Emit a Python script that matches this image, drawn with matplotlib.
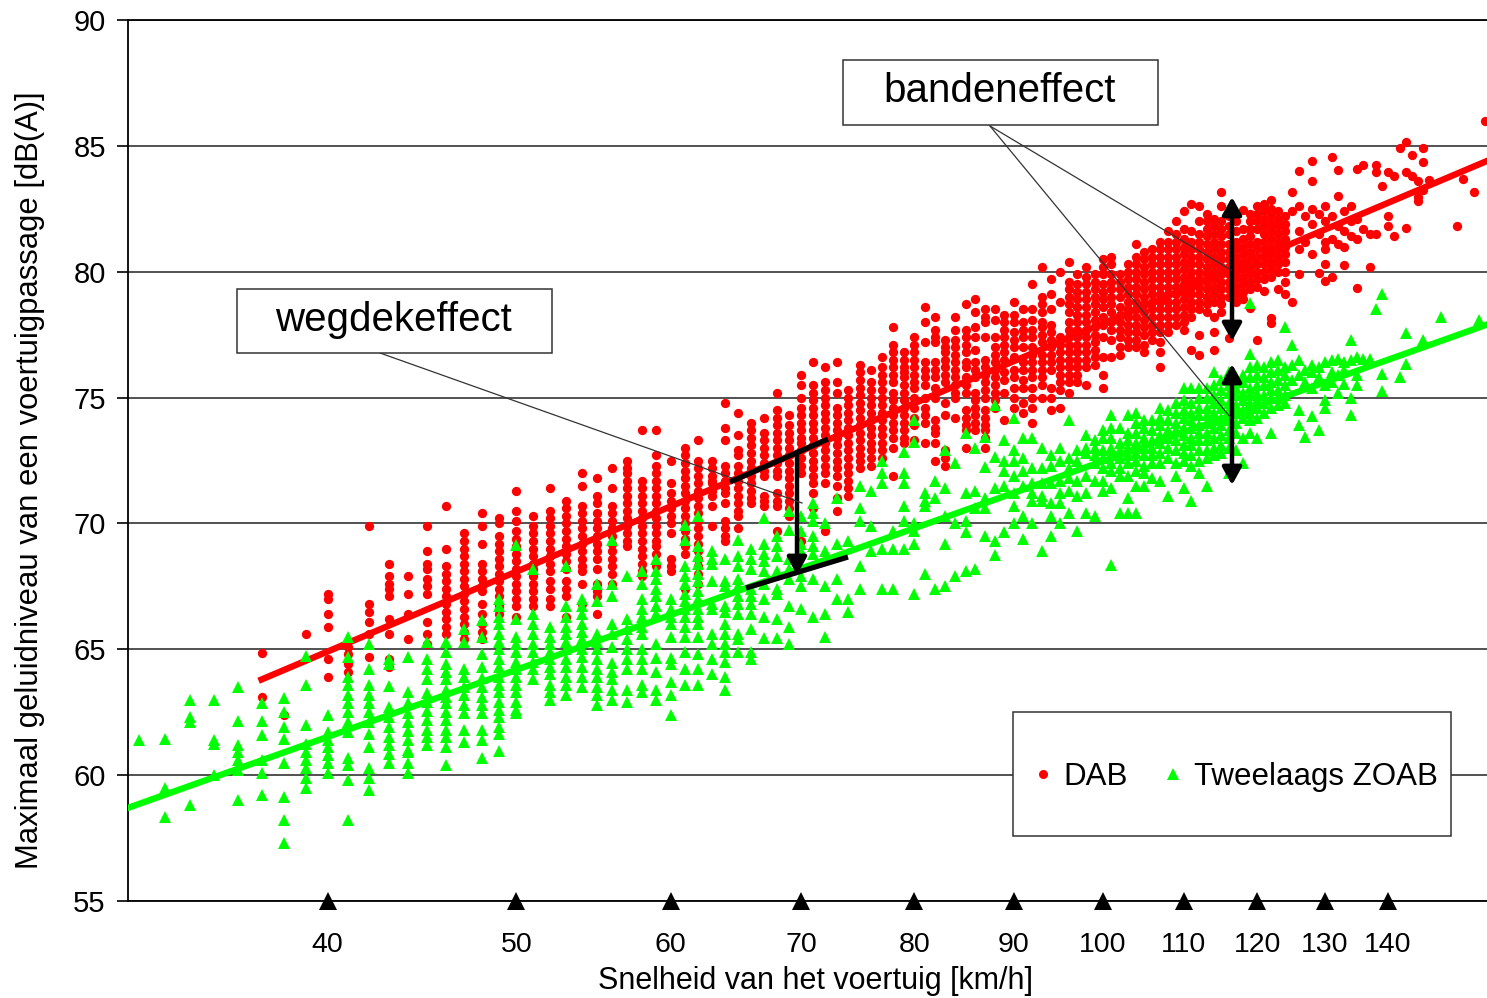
import matplotlib
matplotlib.use("Agg")
import matplotlib.pyplot as plt
from matplotlib.lines import Line2D
from matplotlib.patches import Rectangle
from matplotlib.ticker import NullFormatter, NullLocator

plt.rcParams['font.family'] = ['Liberation Sans', 'DejaVu Sans']

W, H = 1487, 998

speed_ticks = [40, 50, 60, 70, 80, 90, 100, 110, 120, 130, 140]
level_ticks = [55, 60, 65, 70, 75, 80, 85, 90]

# regression lines
red_fit_speed = [37, 157.4]
red_fit_level = [63.8, 84.4]
green_fit_speed = [31.6, 157.4]
green_fit_level = [58.7, 77.9]

# measurements per whole km/h
red_speed = list(range(37, 125))
red_level = [
    [64.85, 63.1],  # 37
    [62.4],
    [65.6],
    [67.2, 67.0, 66.4, 65.9, 64.6, 63.9],  # 40
    [65.1, 64.8, 64.4, 64.1],
    [69.9, 66.8, 66.5, 66.1, 65.6, 64.7],
    [68.4, 67.9, 67.6, 67.4, 67.1, 66.2, 65.6, 64.6, 64.3],
    [67.9, 67.2, 66.4, 65.4],
    [69.9, 68.9, 68.4, 68.2, 67.8, 67.5, 67.2, 66.1, 65.6, 65.2],  # 45
    [70.7, 69.0, 68.3, 68.0, 67.7, 67.4, 67.1, 66.8, 66.5, 66.2, 65.9, 65.6],
    [69.6, 69.3, 69.0, 68.7, 68.4, 68.1, 67.8, 67.5, 67.2, 66.9, 66.6, 66.3, 66.0, 65.7, 65.4],
    [70.4, 69.9, 69.2, 68.4, 68.1, 67.8, 67.5, 67.3, 66.8, 66.4, 66.0, 65.7, 65.4],
    [70.2, 70.0, 69.5, 69.2, 68.9, 68.6, 68.3, 68.0, 67.7, 67.4, 67.1, 66.7, 66.4],
    [71.3, 70.5, 70.1, 69.7, 69.4, 69.1, 68.8, 68.5, 68.2, 67.9, 67.6, 67.3, 67.0, 66.7, 66.3],  # 50
    [70.3, 69.9, 69.6, 69.3, 69.0, 68.7, 68.4, 68.2, 67.9, 67.6, 67.3, 67.0, 66.7],
    [71.4, 70.5, 70.2, 69.9, 69.6, 69.3, 69.0, 68.7, 68.4, 68.1, 67.7, 67.4, 67.0, 66.7],
    [70.9, 70.6, 70.3, 70.0, 69.7, 69.4, 69.1, 68.8, 68.5, 68.2, 67.7, 67.4, 67.1, 66.3],
    [72.0, 71.5, 70.7, 70.4, 70.1, 69.8, 69.5, 69.2, 68.9, 68.6, 68.3, 68.1, 67.6, 66.8],
    [71.8, 71.1, 70.8, 70.4, 70.1, 69.8, 69.5, 69.2, 68.9, 68.6, 68.2, 67.6, 67.3, 67.1, 66.4],  # 55
    [72.2, 71.4, 70.7, 70.4, 70.1, 69.8, 69.5, 69.2, 68.9, 68.6, 68.3, 68.0, 67.6],
    [72.5, 72.2, 72.0, 71.7, 71.4, 71.1, 70.8, 70.5, 70.2, 69.9, 69.6, 69.3, 69.1],
    [73.7, 71.7, 71.4, 71.1, 70.8, 70.5, 70.2, 69.9, 69.6, 69.3, 69.0, 68.7, 68.4, 68.1, 67.9],
    [73.7, 72.7, 72.3, 72.0, 71.7, 71.4, 71.1, 70.8, 70.5, 70.2, 69.9, 69.6, 69.3, 69.1, 68.8, 68.3],
    [72.5, 71.6, 71.2, 70.9, 70.6, 70.3, 70.0, 69.6, 68.6, 68.3, 68.1],  # 60
    [73.0, 72.7, 72.4, 72.1, 71.8, 71.5, 71.2, 70.9, 70.6, 70.3, 70.0, 69.7, 69.4, 69.1, 68.8, 67.4],
    [73.3, 72.5, 72.2, 71.9, 71.6, 71.3, 71.0, 70.7, 70.4, 70.1, 69.8, 69.5, 69.2, 68.9, 68.6, 68.3, 68.0, 67.6],
    [72.5, 72.2, 71.9, 71.7, 71.6, 71.3, 71.1, 70.7, 69.9],
    [74.8, 73.8, 73.3, 72.3, 72.0, 71.7, 71.4, 71.2, 70.8, 70.1, 69.8, 69.5, 69.3],
    [74.4, 73.5, 72.9, 72.7, 72.3, 72.0, 71.7, 71.4, 71.1, 70.8, 70.5, 70.3, 69.8],  # 65
    [74.0, 73.7, 73.4, 73.1, 72.8, 72.5, 72.2, 71.9, 71.6, 71.3, 71.0, 70.8],
    [74.2, 73.6, 73.3, 73.0, 72.7, 72.4, 72.1, 71.9, 71.1, 70.9, 70.7],
    [75.2, 74.5, 74.2, 73.9, 73.6, 73.3, 73.0, 72.7, 72.4, 72.1, 71.9, 71.2, 70.9, 70.7, 69.7],
    [74.3, 73.9, 73.6, 73.3, 73.0, 72.7, 72.4, 72.1, 71.8, 71.5, 71.2, 70.9, 70.6, 70.3],
    [75.9, 75.5, 75.0, 74.6, 74.3, 74.0, 73.7, 73.4, 73.2, 72.9, 72.6, 72.3, 72.0, 69.3],  # 70
    [76.4, 75.5, 75.2, 74.9, 74.6, 74.3, 74.0, 73.7, 73.4, 73.1, 72.8, 72.5, 72.2, 71.9, 71.6, 71.2, 70.6],
    [76.2, 75.6, 75.3, 75.0, 74.7, 74.4, 74.1, 73.8, 73.5, 73.2, 72.9, 72.6, 72.3, 72.0, 71.6, 69.7],
    [76.4, 75.6, 75.2, 74.6, 74.3, 74.0, 73.7, 73.4, 73.1, 72.8, 72.5, 72.2, 71.9, 71.5, 71.0, 70.5],
    [75.3, 75.0, 74.7, 74.4, 74.1, 73.8, 73.5, 73.2, 72.9, 72.6, 72.3, 72.0, 71.7, 71.4, 71.1],
    [76.3, 76.0, 75.7, 75.4, 75.1, 74.8, 74.5, 74.2, 73.9, 73.6, 73.3, 73.0, 72.7, 72.5, 72.2],  # 75
    [76.1, 75.6, 75.3, 75.0, 74.7, 74.4, 74.1, 73.8, 73.5, 73.2, 72.9, 72.6, 72.3],
    [76.6, 76.2, 75.9, 75.6, 75.3, 75.0, 74.7, 74.4, 74.1, 73.8, 73.5, 73.2, 72.9, 72.6],
    [77.8, 77.1, 76.8, 76.5, 76.2, 75.9, 75.6, 75.2, 74.9, 74.6, 74.3, 74.0, 73.7, 73.4, 73.0, 71.9],
    [76.8, 76.5, 76.2, 76.0, 75.8, 75.5, 75.2, 74.9, 74.6, 74.3, 74.0, 73.7, 73.4, 73.2],
    [77.4, 77.1, 76.8, 76.5, 76.2, 75.9, 75.6, 75.4, 75.0, 74.6, 74.2, 73.9, 73.3],  # 80
    [78.6, 78.0, 77.2, 76.4, 76.1, 75.8, 75.5, 75.0, 74.6, 74.3, 74.0, 73.2],
    [78.2, 77.7, 77.4, 77.2, 76.4, 76.1, 75.8, 75.4, 75.0, 74.1, 73.8, 73.6, 73.2, 72.5],
    [77.3, 77.0, 76.8, 76.5, 76.2, 75.9, 75.6, 74.8, 74.3, 72.9, 72.6, 72.3],
    [78.2, 77.7, 77.3, 77.0, 76.7, 76.4, 76.1, 75.8, 75.5, 75.2, 75.0, 74.2],
    [78.7, 77.7, 77.4, 77.1, 76.8, 76.4, 76.2, 75.8, 75.5, 75.2, 74.5, 74.2, 73.9, 73.7, 73.0],  # 85
    [78.9, 78.4, 77.8, 77.4, 76.9, 76.4, 76.1, 75.8, 75.2, 74.9, 74.6, 74.3, 74.0, 73.7],
    [78.5, 78.2, 78.0, 77.4, 76.5, 76.2, 75.9, 75.6, 75.3, 75.0, 74.5, 74.2, 73.9, 73.7, 73.4, 73.0],
    [78.5, 78.1, 77.4, 77.0, 76.7, 76.4, 76.1, 75.8, 75.5, 75.2, 74.9, 74.6],
    [78.3, 78.0, 77.7, 77.4, 77.1, 76.8, 76.5, 76.0, 75.7, 75.2, 74.1],
    [78.8, 78.3, 78.0, 77.6, 77.3, 77.0, 76.6, 76.1, 75.8, 75.4, 75.0, 74.6],  # 90
    [78.5, 78.0, 77.7, 77.4, 77.0, 76.4, 76.1, 75.7, 75.4, 74.8, 74.4],
    [79.5, 78.5, 78.1, 77.7, 77.4, 77.0, 76.7, 76.4, 76.1, 75.8, 75.4, 75.0, 74.6, 74.0],
    [80.2, 79.0, 78.7, 78.4, 78.0, 77.8, 77.5, 77.2, 76.7, 76.4, 76.1, 75.8, 75.5, 75.0],
    [79.7, 79.1, 78.5, 77.9, 77.6, 77.3, 77.0, 76.7, 76.4, 76.1, 75.4, 75.0, 74.5],
    [80.0, 78.8, 77.4, 77.1, 76.8, 76.5, 76.2, 75.9, 75.6, 75.3, 74.6],  # 95
    [80.4, 79.6, 79.3, 79.0, 78.7, 78.4, 78.0, 77.7, 77.4, 77.1, 76.8, 76.5, 76.2, 75.9, 75.6, 75.2],
    [79.9, 79.5, 79.2, 78.9, 78.6, 78.3, 78.0, 77.7, 77.4, 77.1, 76.8, 76.5, 76.2, 75.9, 75.6],
    [80.2, 79.8, 79.5, 79.2, 78.9, 78.6, 78.3, 78.0, 77.7, 77.4, 77.1, 76.8, 76.5, 76.2, 75.5],
    [79.9, 79.6, 79.3, 79.0, 78.7, 78.4, 78.1, 77.8, 77.5, 77.2, 76.9, 76.6, 76.3],
    [80.5, 80.2, 79.9, 79.5, 79.2, 78.9, 78.6, 78.2, 77.9, 77.4, 76.6, 75.9, 75.4],  # 100
    [80.6, 80.3, 79.9, 79.6, 79.3, 79.0, 78.7, 78.4, 78.0, 77.7, 77.3, 76.6],
    [79.9, 79.6, 79.3, 79.0, 78.6, 78.3, 78.0, 77.7, 77.4, 77.0, 76.7],
    [80.3, 80.0, 79.7, 79.4, 79.1, 78.8, 78.5, 78.2, 77.9, 77.6, 77.3, 77.0],
    [81.1, 80.6, 80.3, 80.0, 79.7, 79.4, 79.1, 78.8, 78.5, 78.2, 77.9, 77.6, 77.3, 77.0],
    [80.8, 80.5, 80.2, 79.9, 79.6, 79.3, 79.0, 78.7, 78.4, 78.1, 77.8, 77.5, 77.1, 76.8],  # 105
    [80.9, 80.6, 80.3, 80.0, 79.7, 79.4, 79.1, 78.8, 78.5, 78.2, 77.9, 77.6, 77.3],
    [81.2, 80.9, 80.6, 80.3, 80.0, 79.7, 79.4, 79.1, 78.8, 78.5, 78.2, 77.9, 77.6, 77.2, 76.8, 76.2],
    [81.6, 81.2, 80.9, 80.6, 80.3, 80.0, 79.7, 79.4, 79.1, 78.8, 78.5, 78.2, 77.9, 77.6],
    [82.0, 81.5, 81.2, 80.9, 80.6, 80.3, 80.0, 79.7, 79.4, 79.1, 78.8, 78.5, 78.2, 77.9],
    [82.4, 81.7, 81.3, 81.0, 80.7, 80.4, 80.1, 79.8, 79.5, 79.2, 78.9, 78.6, 78.3, 78.0],  # 110
    [81.6, 81.2, 80.9, 80.6, 80.3, 80.0, 79.7, 79.4, 79.1, 78.8, 78.5, 78.2],
    [81.5, 81.2, 80.9, 80.6, 80.3, 80.0, 79.7, 79.4, 79.1, 78.8, 78.5],
    [82.0, 81.7, 81.4, 81.1, 80.8, 80.5, 80.2, 79.9, 79.6, 79.3, 79.0, 78.7, 78.4],
    [82.1, 81.8, 81.5, 81.2, 80.9, 80.6, 80.3, 80.0, 79.7, 79.4, 79.1, 78.8, 78.2],
    [82.0, 81.7, 81.4, 81.1, 80.8, 80.5, 80.2, 79.9, 79.6, 79.3, 79.0, 78.7, 78.4],  # 115
    [82.2, 81.8, 81.5, 81.1, 80.8, 80.5, 80.2, 79.9, 79.6, 79.3, 79.0],
    [82.0, 81.6, 81.2, 80.9, 80.6, 80.3, 80.0, 79.7, 79.4, 79.1, 78.8],
    [81.7, 81.3, 81.0, 80.7, 80.4, 80.1, 79.8, 79.5, 79.2, 78.9],
    [82.3, 82.0, 81.7, 81.4, 81.1, 80.8, 80.5, 80.2, 79.9, 79.6, 79.3],
    [82.6, 82.3, 82.0, 81.7, 81.2, 80.9, 80.6, 80.3, 80.0, 79.7, 79.4],  # 120
    [82.7, 82.4, 82.1, 81.8, 81.5, 81.2, 80.9, 80.6, 80.3, 80.0, 79.7],
    [82.5, 82.2, 81.9, 81.6, 81.3, 81.0, 80.7, 80.4, 80.1, 79.8],
    [82.4, 82.1, 81.8, 81.5, 81.2, 80.9, 80.6, 80.3, 80.0],
    [82.2, 81.9, 81.6, 81.3, 81.0, 80.7, 80.4, 80.0, 79.6],
]

# scattered fast vehicles
red_extra_speed = [115, 111, 112, 113, 112, 118, 115, 122, 125, 128, 128, 131, 132, 126, 132, 135, 136,
                   138, 138, 139, 140, 141, 143, 142, 143, 146, 144, 146, 144, 145, 147, 146, 145, 145,
                   153, 155, 140, 140, 138, 141, 143, 152, 134, 130, 135, 137, 133, 130, 129, 130, 131,
                   126, 125, 124, 123, 121, 120, 122, 122, 119, 116, 114, 114, 112, 111, 112, 110, 157,
                   125, 126, 126, 127, 127, 128, 128, 129, 129, 130, 130, 131, 131, 132, 132, 133, 133,
                   134, 134, 135, 136, 126, 128, 130, 133, 135, 137]
red_extra_level = [83.15, 82.7, 82.6, 82.3, 82.0, 82.45, 82.6, 82.85, 83.15, 84.4, 83.6, 84.55, 84.05, 84.0,
                   83.0, 84.1, 84.25, 84.25, 83.95, 83.4, 83.95, 83.8, 83.95, 84.9, 85.15, 84.9, 84.65,
                   84.35, 83.8, 83.6, 83.65, 83.25, 82.8, 82.95, 83.7, 83.15, 82.2, 81.8, 81.5, 81.4, 81.75,
                   81.8, 82.6, 82.6, 79.35, 80.2, 80.25, 80.3, 79.95, 79.65, 79.8, 79.9, 78.8, 79.1, 79.3,
                   79.25, 77.3, 77.95, 78.15, 78.55, 77.35, 76.9, 77.6, 76.7, 76.9, 77.5, 77.7, 86.0,
                   82.4, 82.6, 81.6, 82.2, 81.2, 82.5, 81.9, 82.3, 81.5, 82.0, 81.2, 82.2, 81.3, 81.8, 81.1,
                   82.4, 81.6, 82.0, 81.4, 82.1, 81.7, 80.9, 80.7, 80.9, 81.0, 81.3, 81.5]

green_speed = list(range(32, 125))
green_level = [
    [61.4],  # 32
    [61.45, 59.5, 58.35],
    [63.0, 62.3, 62.1, 58.8],
    [63.0, 61.4, 61.25, 60.0],  # 35
    [63.5, 62.15, 61.2, 60.9, 60.6, 60.2, 59.0],
    [62.85, 62.15, 61.6, 60.6, 60.1, 59.2],
    [63.05, 62.5, 61.9, 61.45, 60.5, 59.15, 58.2, 57.3],
    [64.75, 63.6, 62.0, 61.25, 60.9, 60.6, 60.3, 59.9, 59.5],
    [62.4, 61.7, 61.4, 61.1, 60.8, 60.5, 60.1],  # 40
    [65.5, 64.7, 63.9, 63.6, 63.2, 62.85, 62.5, 62.1, 61.7, 60.7, 60.4, 59.8, 58.2],
    [65.2, 64.2, 63.6, 63.2, 62.85, 62.5, 62.1, 61.65, 61.1, 60.3, 59.9, 59.4],
    [64.6, 64.4, 63.55, 62.7, 62.3, 61.9, 61.5, 61.2, 60.85, 60.5],
    [64.7, 63.3, 62.85, 62.45, 62.1, 61.75, 61.4, 61.0, 60.9, 60.5, 60.1],
    [65.3, 64.6, 64.2, 63.8, 63.25, 62.9, 62.55, 62.2, 61.8, 61.5, 61.2],  # 45
    [65.3, 64.9, 64.4, 64.1, 63.8, 63.4, 63.1, 62.85, 62.5, 62.2, 61.8, 61.5, 61.1, 60.4],
    [65.8, 65.3, 64.2, 63.9, 63.5, 63.2, 62.8, 62.45, 61.8, 61.3],
    [66.15, 65.5, 64.8, 64.3, 63.85, 63.5, 63.1, 62.8, 62.45, 61.8, 61.4, 60.7],
    [67.0, 66.7, 66.3, 66.0, 65.6, 65.3, 65.0, 64.6, 64.3, 63.9, 63.6, 63.3, 62.9, 62.6, 62.3, 61.9, 61.65, 60.95],
    [69.15, 66.2, 65.5, 65.2, 64.9, 64.5, 64.2, 63.9, 63.6, 63.3, 62.9, 62.6, 62.45],  # 50
    [68.2, 66.4, 66.0, 65.6, 65.2, 64.9, 64.5, 64.2, 63.8],
    [65.9, 65.5, 65.2, 64.9, 64.6, 64.3, 64.0, 63.6, 63.3, 63.0],
    [68.3, 66.7, 66.3, 65.9, 65.6, 65.3, 65.0, 64.6, 64.3, 63.9, 63.6, 63.2],
    [67.0, 66.7, 66.4, 66.0, 65.7, 65.4, 65.0, 64.7, 64.3, 63.9, 63.5],
    [67.6, 66.9, 65.6, 65.3, 65.0, 64.6, 64.2, 63.9, 63.5, 63.2, 62.8],  # 55
    [69.35, 67.6, 67.1, 66.0, 65.6, 65.1, 64.45, 64.1, 63.8, 63.4, 63.0],
    [67.9, 66.2, 65.8, 65.4, 65.0, 64.6, 64.2, 63.4, 62.9],
    [68.1, 67.6, 67.0, 66.6, 66.3, 65.9, 65.6, 65.0, 64.6, 64.2, 63.6, 63.3],
    [68.6, 68.1, 67.8, 67.4, 67.1, 66.7, 66.4, 65.2, 64.65, 64.1, 63.4, 63.0],
    [67.0, 66.6, 66.3, 66.0, 65.5, 64.65, 64.4, 63.7, 63.2, 62.4],  # 60
    [69.95, 69.35, 68.3, 67.9, 67.6, 67.2, 66.9, 66.6, 66.3, 65.9, 65.5, 64.9, 64.2, 63.6],
    [70.3, 69.1, 68.7, 68.4, 68.0, 67.7, 67.3, 67.0, 66.6, 66.3, 66.0, 65.5, 64.8, 64.2, 63.6],
    [68.9, 68.6, 68.4, 67.7, 66.8, 66.6, 65.6, 65.2, 64.6, 64.0],
    [68.6, 67.7, 67.5, 66.7, 66.5, 66.0, 65.6, 65.2, 64.9, 64.5, 63.9, 63.4],
    [69.35, 68.7, 68.3, 67.8, 67.5, 67.1, 66.8, 66.4, 65.6, 65.4, 64.9],  # 65
    [69.0, 68.6, 68.2, 67.4, 67.1, 66.8, 66.4, 65.8, 64.9, 64.6],
    [70.2, 69.2, 68.8, 68.5, 68.1, 67.6, 67.0, 66.3, 65.45],
    [69.5, 69.1, 68.7, 68.1, 67.4, 67.2, 66.2, 65.45],
    [70.5, 69.75, 68.6, 68.2, 67.8, 66.7, 65.9, 65.2],
    [70.3, 69.7, 69.2, 68.9, 67.9, 67.5, 66.6],  # 70
    [70.8, 70.4, 70.1, 69.5, 69.1, 68.8, 67.8, 66.3],
    [70.0, 68.9, 67.5, 66.4, 65.5],
    [71.0, 69.2, 67.8, 67.0],
    [69.3, 67.0, 66.5],
    [71.5, 70.6, 70.1, 68.3, 67.4],  # 75
    [71.3, 69.9, 68.9],
    [72.5, 72.0, 71.6, 69.0, 67.4],
    [69.7, 69.0, 67.4],
    [72.85, 72.0, 71.6, 70.7, 70.1, 69.0],
    [74.1, 73.25, 70.0, 69.7, 69.2, 67.2],  # 80
    [71.2, 70.9, 70.7, 68.0],
    [71.7, 71.0, 67.4],
    [72.9, 71.4, 70.3, 69.2, 67.5],
    [72.4, 70.0, 67.9],
    [73.6, 71.2, 70.1, 69.65, 68.1],  # 85
    [73.0, 71.3, 70.6, 68.2],
    [73.45, 72.25, 71.0, 70.6, 69.5],
    [74.7, 72.65, 71.4, 69.3, 68.75],
    [73.3, 72.5, 72.1, 71.5, 69.65],
    [74.2, 72.9, 72.5, 71.9, 71.2, 70.7, 70.0],  # 90
    [73.4, 72.6, 72.1, 71.5, 70.3, 69.4],
    [73.4, 72.2, 71.6, 71.2, 70.9, 70.0],
    [73.0, 72.2, 71.6, 71.1, 70.9, 68.9],
    [72.7, 72.3, 71.6, 70.8, 70.3, 69.5],
    [73.0, 72.5, 71.7, 71.2, 70.8, 70.0],  # 95
    [74.1, 72.6, 72.2, 71.8, 71.3, 70.4],
    [72.9, 72.5, 71.7, 71.1, 69.7],
    [73.5, 73.0, 72.8, 71.9, 71.2, 70.4],
    [73.3, 73.0, 72.7, 72.4, 71.7, 70.3],
    [73.7, 73.4, 72.9, 72.6, 72.2, 71.7, 71.3],  # 100
    [74.3, 73.8, 73.4, 73.0, 72.7, 72.4, 72.1, 71.4, 68.35],
    [73.8, 73.2, 72.9, 72.6, 72.2, 71.9, 70.4],
    [74.3, 73.6, 73.3, 73.0, 72.7, 72.4, 71.9, 71.0, 70.4],
    [74.4, 74.0, 73.6, 73.2, 72.8, 72.5, 72.1, 71.5, 70.4],
    [74.1, 73.8, 73.4, 73.0, 72.7, 72.3, 72.0, 71.5],  # 105
    [74.1, 73.7, 73.3, 73.0, 72.7, 72.4, 71.8],
    [74.6, 74.2, 73.9, 73.5, 73.2, 72.8, 72.4, 71.7],
    [74.5, 74.1, 73.7, 73.4, 73.0, 72.6, 71.1],
    [74.8, 74.4, 74.0, 73.7, 73.3, 72.9, 72.4, 71.9],
    [75.4, 74.9, 74.5, 74.2, 73.8, 73.5, 73.1, 72.8, 72.5, 71.4],  # 110
    [75.4, 74.8, 74.4, 74.1, 73.8, 73.4, 73.1, 72.7, 72.3, 70.9],
    [75.4, 75.0, 74.6, 74.3, 73.9, 73.6, 73.3, 72.9, 72.5, 72.0],
    [75.4, 75.0, 74.6, 74.3, 74.0, 73.6, 73.3, 72.9, 72.6, 71.5],
    [76.0, 75.5, 75.1, 74.8, 74.4, 74.1, 73.8, 73.4, 73.0, 72.7],
    [75.7, 75.3, 74.9, 74.6, 74.2, 73.9, 73.5, 73.1, 72.8],  # 115
    [76.0, 75.5, 75.2, 74.8, 74.5, 74.1, 73.7, 73.4, 73.0, 72.0],
    [75.8, 75.4, 75.1, 74.7, 74.4, 74.0, 73.6, 72.9],
    [75.9, 75.6, 75.2, 74.9, 74.5, 74.2, 73.4, 72.4],
    [76.2, 75.8, 75.4, 75.1, 74.8, 74.4, 74.1, 73.6],
    [76.3, 75.9, 75.5, 75.2, 74.9, 74.6, 74.2, 73.4],  # 120
    [76.2, 75.8, 75.5, 75.1, 74.8, 74.4],
    [76.4, 76.0, 75.6, 75.3, 75.0, 74.6, 73.6],
    [76.5, 76.1, 75.7, 75.3, 75.0, 74.7],
    [77.8, 76.2, 75.9, 75.5, 75.1, 74.8],
]

green_extra_speed = [139, 138, 149, 156, 143, 134, 146, 125, 119, 119, 126, 143, 139, 142, 139, 135, 134, 132,
                     130, 130, 134, 126, 126, 128, 129, 127, 137, 136, 132, 131, 130, 129, 128, 133, 133,
                     125, 125, 126, 127, 127, 128, 128, 129, 130, 131, 131, 132, 133, 134, 135, 135]
green_extra_level = [79.1, 78.5, 78.2, 78.1, 77.55, 77.3, 77.3, 77.1, 78.75, 76.75, 76.5, 76.35, 75.95, 75.8,
                     75.25, 75.5, 75.0, 75.2, 74.9, 74.6, 74.3, 74.5, 73.9, 74.25, 73.7, 73.45, 76.55, 76.55,
                     76.55, 76.5, 76.4, 76.2, 76.3, 76.1, 75.55, 76.3, 75.7, 75.9, 76.1, 75.6, 76.0, 75.4,
                     75.8, 75.5, 76.0, 75.6, 75.9, 76.4, 76.5, 76.6, 75.9]

assert len(red_speed) == len(red_level) and len(green_speed) == len(green_level)


def px(x, y):
    # reference pixels to figure fraction
    return x / W, 1 - y / H


def flat(speeds, levels):
    xs, ys = [], []
    for s, lv in zip(speeds, levels):
        xs += [s] * len(lv)
        ys += lv
    return xs, ys


fig = plt.figure(figsize=(W / 100, H / 100), dpi=100)
ax = fig.add_axes([128 / W, 1 - 901 / H, (W - 128) / W, 881 / H])

ax.set_xscale("log")
ax.set_xlim(31.6, 157.4)
ax.set_ylim(55, 90)

ax.set_yticks(level_ticks)
ax.set_xticks(speed_ticks)
ax.set_xticklabels([str(s) for s in speed_ticks])
ax.xaxis.set_minor_locator(NullLocator())
ax.xaxis.set_minor_formatter(NullFormatter())
ax.tick_params(axis="x", length=0, pad=22, labelsize=20.5)
ax.tick_params(axis="y", length=8, width=1.2, pad=8, labelsize=21)
ax.grid(True, axis="y", color="#333333", lw=1.2)
ax.set_axisbelow(True)
ax.spines["right"].set_visible(False)
for side in ("left", "bottom", "top"):
    ax.spines[side].set_linewidth(1.3)

rx, ry = flat(red_speed, red_level)
gx, gy = flat(green_speed, green_level)
ax.plot(rx + red_extra_speed, ry + red_extra_level, "o", color="#ff0000", ms=6.7, mew=0, zorder=3)
ax.plot(red_fit_speed, red_fit_level, color="#ff0000", lw=4.6, zorder=3.1)
ax.plot(gx + green_extra_speed, gy + green_extra_level, "^", color="#00ff00", ms=8.6, mew=0, zorder=4)
ax.plot(green_fit_speed, green_fit_level, color="#00ff00", lw=4.6, zorder=4.1)

ax.plot(speed_ticks, [55] * len(speed_ticks), "^", color="black", ms=13.5, mew=0, clip_on=False, zorder=6)

ax.set_xlabel("Snelheid van het voertuig [km/h]", fontsize=22)
ax.xaxis.set_label_coords(815 / W, 1 - 981 / H, transform=fig.transFigure)
ax.xaxis.label.set_verticalalignment("center")
ax.set_ylabel("Maximaal geluidniveau van een voertuigpassage [dB(A)]", fontsize=22.3)
ax.yaxis.set_label_coords(30 / W, 1 - 480 / H, transform=fig.transFigure)
ax.yaxis.label.set_verticalalignment("center")

# callout lines
for p0, p1 in [((380, 353), (802, 503)), ((990, 126), (1231, 270)), ((990, 126), (1231, 418))]:
    a, b = px(*p0), px(*p1)
    fig.add_artist(Line2D([a[0], b[0]], [a[1], b[1]], color="#333333", lw=0.9, zorder=7))

# thick offset lines for the road effect
for p0, p1 in [((730, 482), (828, 439)), ((746, 588), (848, 557))]:
    a, b = px(*p0), px(*p1)
    fig.add_artist(Line2D([a[0], b[0]], [a[1], b[1]], color="black", lw=3.8, zorder=8, solid_capstyle="butt"))


def arrow(p0, p1, style):
    ax.annotate("", xy=px(*p1), xytext=px(*p0), xycoords="figure fraction", textcoords="figure fraction",
                arrowprops=dict(arrowstyle=style, color="black", lw=3.2, shrinkA=0, shrinkB=0),
                annotation_clip=False, zorder=9)


arrow((797, 452), (797, 575), "-|>,head_length=1.05,head_width=0.58")
arrow((1232, 197), (1232, 341), "<|-|>,head_length=1.05,head_width=0.58")
arrow((1232, 364), (1232, 485), "<|-|>,head_length=1.05,head_width=0.58")


def box(x0, y0, x1, y1):
    fig.add_artist(Rectangle((x0 / W, 1 - y1 / H), (x1 - x0) / W, (y1 - y0) / H, transform=fig.transFigure,
                             facecolor="white", edgecolor="#333333", lw=1.1, zorder=10))


box(237, 289, 552, 353)
fig.text(393 / W, 1 - 320 / H, "wegdekeffect", fontsize=29, ha="center", va="center", zorder=11)
box(843, 60, 1158, 125)
fig.text(1000 / W, 1 - 91 / H, "bandeneffect", fontsize=29, ha="center", va="center", zorder=11)
box(1013, 712, 1451, 836)

handles = [Line2D([], [], ls="none", marker="o", color="#ff0000", ms=6.5, mew=0, label="DAB"),
           Line2D([], [], ls="none", marker="^", color="#00ff00", ms=8.5, mew=0, label="Tweelaags ZOAB")]
leg = fig.legend(handles=handles, ncol=2, frameon=False, fontsize=22.5, loc="center",
                 bbox_to_anchor=(1235 / W, 1 - 777 / H), handlelength=0.7, handletextpad=0.3,
                 columnspacing=1.1)
leg.set_zorder(12)

fig.savefig("out.png", dpi=100)
